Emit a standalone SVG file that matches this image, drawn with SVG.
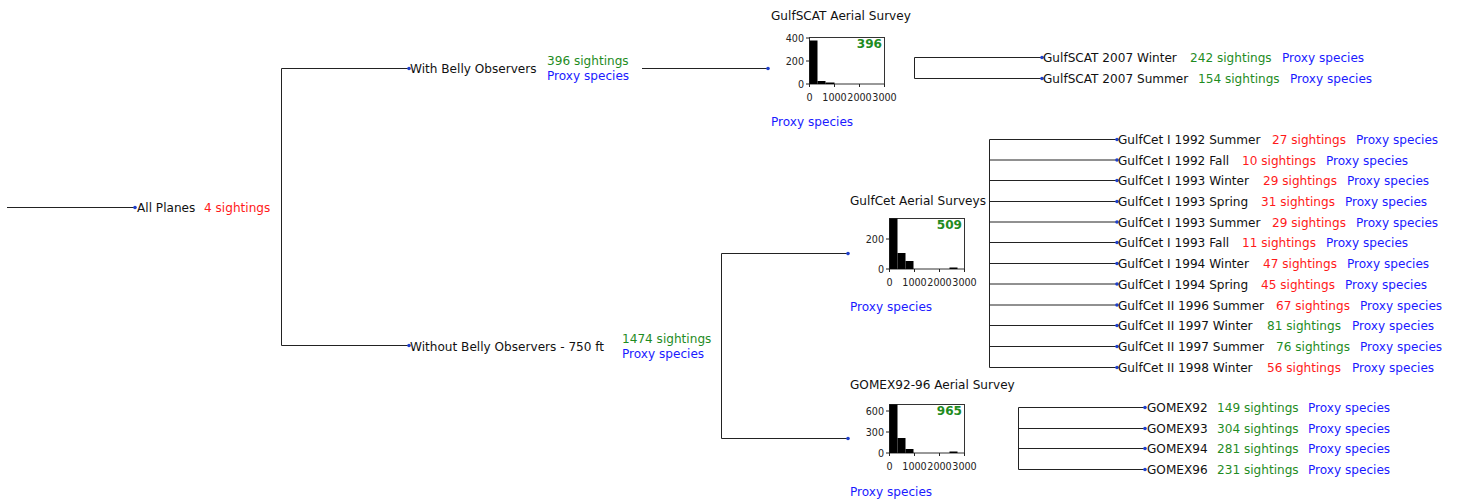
<svg xmlns="http://www.w3.org/2000/svg" width="1459" height="499" viewBox="0 0 1459 499">
<style>
text{font-family:"DejaVu Sans",Verdana,sans-serif;font-size:12.1px;fill:#111}
.g{fill:#1f8c1f}.r{fill:#ff1a1a}.b{fill:#1a1aff}
.tk{font-size:9.6px;fill:#222}
.xt{text-anchor:middle}.yt{text-anchor:end}
.num{font-weight:bold;fill:#1f8c1f;text-anchor:end}
.ln{stroke:#222;stroke-width:1;fill:none}
.box{stroke:#333;stroke-width:1;fill:#fff}
.bar{fill:#000}
.dot{fill:#1f3fcc}
</style>
<defs>
<circle id="d" r="1.8" class="dot"/>
</defs>
<rect width="1459" height="499" fill="#fff"/>
<g id="connectors" class="ln">
<path d="M7 207.5H135"/>
<path d="M409 68.5H281.5V345.5H409"/>
<path d="M642 68.5H768"/>
<path d="M1042 57.5H914.5V78.5H1042"/>
<path d="M848 253.5H721.5V438.5H848"/>
<path d="M989.5 139.5V367.5"/>
<path d="M989.5 139.5H1117M989.5 160H1117M989.5 180.5H1117M989.5 201.5H1117M989.5 222H1117M989.5 242.5H1117M989.5 263.5H1117M989.5 284H1117M989.5 305H1117M989.5 325.5H1117M989.5 346.5H1117M989.5 367.5H1117"/>
<path d="M1145 407.5H1018.5V469.5H1145M1018.5 428.5H1145M1018.5 448.5H1145"/>
</g>
<g id="dots">
<use href="#d" x="135" y="207.5"/>
<use href="#d" x="409" y="68.5"/>
<use href="#d" x="409" y="345.5"/>
<use href="#d" x="768" y="68.5"/>
<use href="#d" x="848" y="253.5"/>
<use href="#d" x="848" y="438.5"/>
<use href="#d" x="1042" y="57.5"/>
<use href="#d" x="1042" y="78.5"/>
<use href="#d" x="1117" y="139.5"/><use href="#d" x="1117" y="160"/><use href="#d" x="1117" y="180.5"/><use href="#d" x="1117" y="201.5"/><use href="#d" x="1117" y="222"/><use href="#d" x="1117" y="242.5"/><use href="#d" x="1117" y="263.5"/><use href="#d" x="1117" y="284"/><use href="#d" x="1117" y="305"/><use href="#d" x="1117" y="325.5"/><use href="#d" x="1117" y="346.5"/><use href="#d" x="1117" y="367.5"/>
<use href="#d" x="1145" y="407.5"/><use href="#d" x="1145" y="428.5"/><use href="#d" x="1145" y="448.5"/><use href="#d" x="1145" y="469.5"/>
</g>
<g id="n-all"><text x="137" y="212">All Planes</text><text class="r" x="204" y="212">4 sightings</text></g>
<g id="n-with"><text x="410" y="73">With Belly Observers</text><text class="g" x="547" y="65">396 sightings</text><text class="b" x="547" y="80">Proxy species</text></g>
<g id="n-without"><text x="410" y="351">Without Belly Observers - 750 ft</text><text class="g" x="622" y="343">1474 sightings</text><text class="b" x="622" y="358">Proxy species</text></g>
<g id="n-gulfscat">
<text x="771" y="20">GulfSCAT Aerial Survey</text>
<rect class="box" x="809.5" y="37.5" width="75" height="46.5"/>
<rect class="bar" x="809.5" y="40.5" width="8" height="43.5"/>
<rect class="bar" x="817.5" y="81" width="8" height="3"/>
<rect class="bar" x="825.5" y="82.5" width="9" height="1.5"/>
<path class="ln" d="M806 38H809.5M806 61H809.5M806 84H809.5M809.5 84V87M834.5 84V87M859.5 84V87M884.5 84V87"/>
<text class="tk yt" x="804" y="41.5">400</text><text class="tk yt" x="804" y="64.5">200</text><text class="tk yt" x="804" y="87.5">0</text>
<text class="tk xt" x="809.5" y="101">0</text><text class="tk xt" x="834.5" y="101">1000</text><text class="tk xt" x="859.5" y="101">2000</text><text class="tk xt" x="884.5" y="101">3000</text>
<text class="num" x="882" y="48">396</text>
<text class="b" x="771" y="126">Proxy species</text>
</g>
<g id="n-gulfscat-w"><text x="1043" y="62">GulfSCAT 2007 Winter</text><text class="g" x="1190" y="62">242 sightings</text><text class="b" x="1282" y="62">Proxy species</text></g>
<g id="n-gulfscat-s"><text x="1043" y="83">GulfSCAT 2007 Summer</text><text class="g" x="1198" y="83">154 sightings</text><text class="b" x="1290" y="83">Proxy species</text></g>
<g id="n-gulfcet">
<text x="850" y="205">GulfCet Aerial Surveys</text>
<rect class="box" x="889.5" y="218.5" width="75" height="50.5"/>
<rect class="bar" x="889.5" y="218.5" width="8" height="50.5"/>
<rect class="bar" x="897.5" y="253" width="8" height="16"/>
<rect class="bar" x="905.5" y="261" width="8" height="8"/>
<rect class="bar" x="949.5" y="267.5" width="8" height="1.5"/>
<path class="ln" d="M886 239H889.5M886 269H889.5M889.5 269V272M914.5 269V272M939.5 269V272M964.5 269V272"/>
<text class="tk yt" x="884" y="242.5">200</text><text class="tk yt" x="884" y="272.5">0</text>
<text class="tk xt" x="889.5" y="286">0</text><text class="tk xt" x="914.5" y="286">1000</text><text class="tk xt" x="939.5" y="286">2000</text><text class="tk xt" x="964.5" y="286">3000</text>
<text class="num" x="962" y="229">509</text>
<text class="b" x="850" y="311">Proxy species</text>
</g>
<g id="n-gc1"><text x="1118" y="144">GulfCet I 1992 Summer</text><text class="r" x="1272" y="144">27 sightings</text><text class="b" x="1356" y="144">Proxy species</text></g>
<g id="n-gc2"><text x="1118" y="164.5">GulfCet I 1992 Fall</text><text class="r" x="1242" y="164.5">10 sightings</text><text class="b" x="1326" y="164.5">Proxy species</text></g>
<g id="n-gc3"><text x="1118" y="185">GulfCet I 1993 Winter</text><text class="r" x="1263" y="185">29 sightings</text><text class="b" x="1347" y="185">Proxy species</text></g>
<g id="n-gc4"><text x="1118" y="206">GulfCet I 1993 Spring</text><text class="r" x="1261" y="206">31 sightings</text><text class="b" x="1345" y="206">Proxy species</text></g>
<g id="n-gc5"><text x="1118" y="226.5">GulfCet I 1993 Summer</text><text class="r" x="1272" y="226.5">29 sightings</text><text class="b" x="1356" y="226.5">Proxy species</text></g>
<g id="n-gc6"><text x="1118" y="247">GulfCet I 1993 Fall</text><text class="r" x="1242" y="247">11 sightings</text><text class="b" x="1326" y="247">Proxy species</text></g>
<g id="n-gc7"><text x="1118" y="268">GulfCet I 1994 Winter</text><text class="r" x="1263" y="268">47 sightings</text><text class="b" x="1347" y="268">Proxy species</text></g>
<g id="n-gc8"><text x="1118" y="288.5">GulfCet I 1994 Spring</text><text class="r" x="1261" y="288.5">45 sightings</text><text class="b" x="1345" y="288.5">Proxy species</text></g>
<g id="n-gc9"><text x="1118" y="309.5">GulfCet II 1996 Summer</text><text class="r" x="1276" y="309.5">67 sightings</text><text class="b" x="1360" y="309.5">Proxy species</text></g>
<g id="n-gc10"><text x="1118" y="330">GulfCet II 1997 Winter</text><text class="g" x="1267" y="330">81 sightings</text><text class="b" x="1352" y="330">Proxy species</text></g>
<g id="n-gc11"><text x="1118" y="351">GulfCet II 1997 Summer</text><text class="g" x="1276" y="351">76 sightings</text><text class="b" x="1360" y="351">Proxy species</text></g>
<g id="n-gc12"><text x="1118" y="372">GulfCet II 1998 Winter</text><text class="r" x="1267" y="372">56 sightings</text><text class="b" x="1352" y="372">Proxy species</text></g>
<g id="n-gomex">
<text x="850" y="389">GOMEX92-96 Aerial Survey</text>
<rect class="box" x="889.5" y="404.5" width="75" height="48.5"/>
<rect class="bar" x="889.5" y="404.5" width="8" height="48.5"/>
<rect class="bar" x="897.5" y="438" width="8" height="15"/>
<rect class="bar" x="905.5" y="449" width="8" height="4"/>
<rect class="bar" x="949.5" y="451.5" width="8" height="1.5"/>
<path class="ln" d="M886 411H889.5M886 432H889.5M886 453H889.5M889.5 453V456M914.5 453V456M939.5 453V456M964.5 453V456"/>
<text class="tk yt" x="884" y="414.5">600</text><text class="tk yt" x="884" y="435.5">300</text><text class="tk yt" x="884" y="456.5">0</text>
<text class="tk xt" x="889.5" y="470">0</text><text class="tk xt" x="914.5" y="470">1000</text><text class="tk xt" x="939.5" y="470">2000</text><text class="tk xt" x="964.5" y="470">3000</text>
<text class="num" x="962" y="415">965</text>
<text class="b" x="850" y="496">Proxy species</text>
</g>
<g id="n-gm92"><text x="1147" y="412">GOMEX92</text><text class="g" x="1217" y="412">149 sightings</text><text class="b" x="1308" y="412">Proxy species</text></g>
<g id="n-gm93"><text x="1147" y="433">GOMEX93</text><text class="g" x="1217" y="433">304 sightings</text><text class="b" x="1308" y="433">Proxy species</text></g>
<g id="n-gm94"><text x="1147" y="453">GOMEX94</text><text class="g" x="1217" y="453">281 sightings</text><text class="b" x="1308" y="453">Proxy species</text></g>
<g id="n-gm96"><text x="1147" y="474">GOMEX96</text><text class="g" x="1217" y="474">231 sightings</text><text class="b" x="1308" y="474">Proxy species</text></g>
</svg>
